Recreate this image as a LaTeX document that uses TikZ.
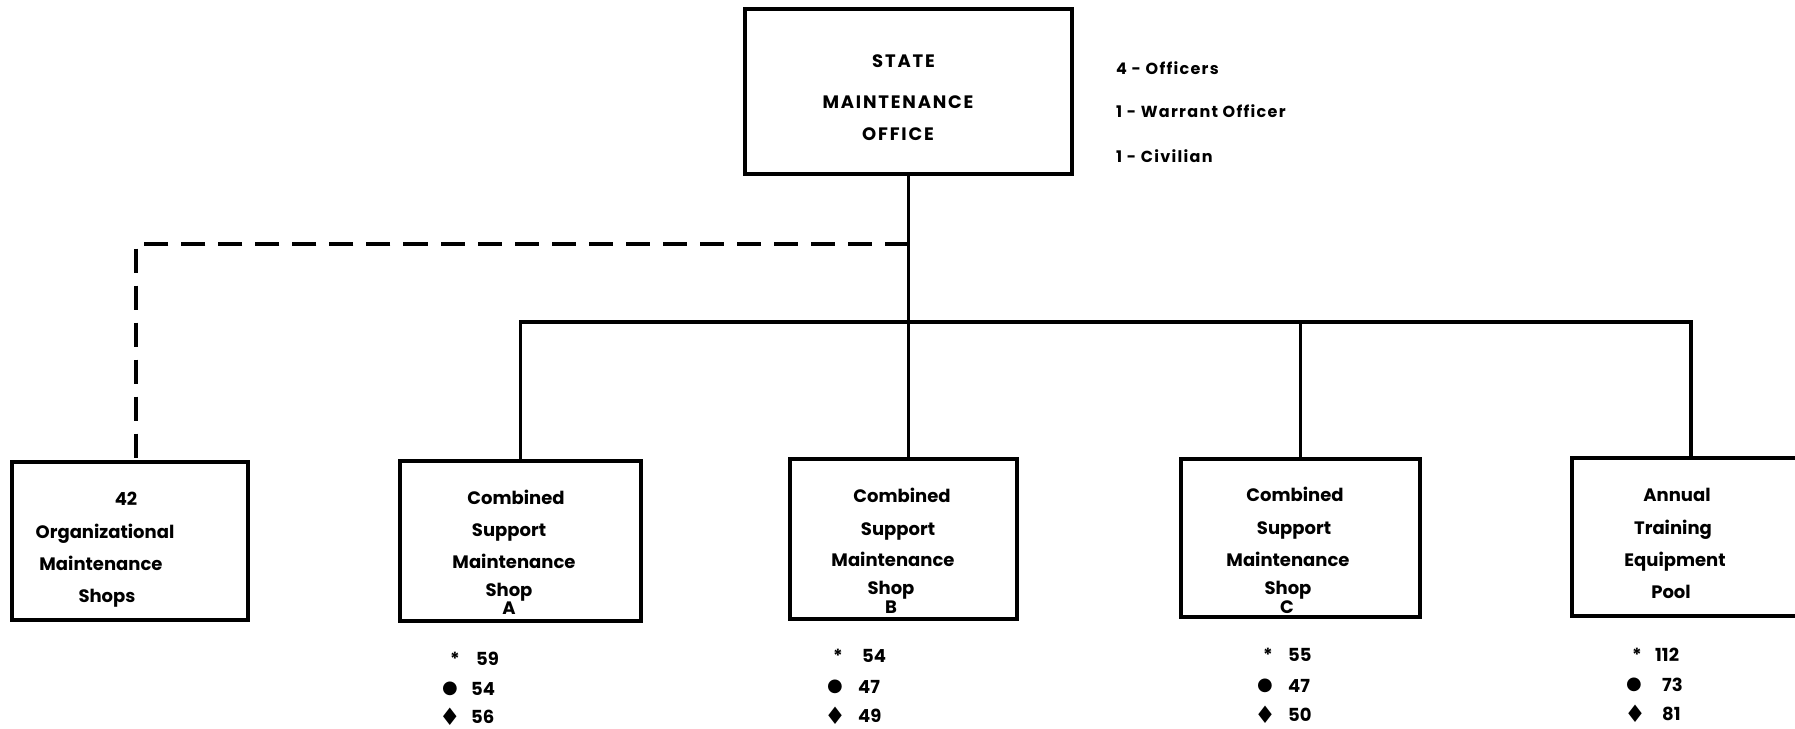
\documentclass[tikz,border=0pt]{standalone}
\usepackage{fontspec}
\setmainfont{Poppins}
\newfontfamily\capsfont{Poppins}[LetterSpace=10]
\newfontfamily\sidefont{Poppins}[LetterSpace=8]
\newfontfamily\symfont{DejaVu Sans}
\begin{document}
\begin{tikzpicture}[x=1bp,y=-1bp,
  box/.style={draw,line width=3.5bp,inner sep=0pt},
  lbl/.style={font=\fontsize{18bp}{18bp}\selectfont\bfseries,text height=13bp,text depth=0pt,inner sep=0pt},
  caps/.style={lbl,font=\capsfont\fontsize{18bp}{18bp}\selectfont\bfseries},
  side/.style={lbl,font=\sidefont\fontsize{16bp}{16bp}\selectfont\bfseries,anchor=west},
  num/.style={lbl,anchor=west},
  dot/.style={font=\symfont\fontsize{18bp}{18bp}\selectfont,inner sep=0pt},
  dia/.style={font=\symfont\fontsize{24bp}{24bp}\selectfont,inner sep=0pt},
  conn/.style={line width=3.5bp},
  dconn/.style={line width=3.5bp,dash pattern=on 24bp off 13bp}]
\useasboundingbox (0,0) rectangle (1795,729);
% boxes
\node[box,minimum width=327bp,minimum height=165bp] (top) at (908.5,91.5) {};
\node[box,minimum width=236bp,minimum height=158bp] (org) at (130,541) {};
\node[box,minimum width=241bp,minimum height=160bp] (A) at (520.5,541) {};
\node[box,minimum width=227bp,minimum height=160bp] (B) at (903.5,539) {};
\node[box,minimum width=239bp,minimum height=158bp] (C) at (1300.5,538) {};
\node[box,minimum width=238bp,minimum height=158bp] (D) at (1691,537) {};
% connectors
\coordinate (bus) at (908,322);
\coordinate (dash) at (908,244);
\coordinate (dcorner) at (136,244);
\draw[conn] (top.south) -- (top.south |- B.north);
\draw[conn] (A.north) -- (A.north |- bus) -- (D.north |- bus) -- (D.north);
\draw[conn] (C.north) -- (C.north |- bus);
\draw[dconn] (top.south |- dash) -- (dcorner) -- (dcorner |- org.north);
% top texts
\node[caps] (t1) at (903.5,61.5) {STATE};
\node[caps] (t2) at (898,102) {MAINTENANCE};
\node[caps] (t3) at (898,134.5) {OFFICE};
\node[side] (s1) at (1116,68) {4 - Officers};
\node[side] (s2) at (1116,111) {1 - Warrant Officer};
\node[side] (s3) at (1116,156) {1 - Civilian};
% org box
\node[lbl] (o1) at (126,499) {42};
\node[lbl] (o2) at (105,532) {Organizational};
\node[lbl] (o3) at (101,564) {Maintenance};
\node[lbl] (o4) at (107,596) {Shops};
% A
\node[lbl] (a1) at (516,498) {Combined};
\node[lbl] (a2) at (509,530) {Support};
\node[lbl] (a3) at (514,562) {Maintenance};
\node[lbl] (a4) at (509,590) {Shop};
\node[lbl] (a5) at (509,608) {A};
% B
\node[lbl] (b1) at (902,496) {Combined};
\node[lbl] (b2) at (898,529) {Support};
\node[lbl] (b3) at (893,560) {Maintenance};
\node[lbl] (b4) at (891,588) {Shop};
\node[lbl] (b5) at (891,607) {B};
% C
\node[lbl] (c1) at (1295,495) {Combined};
\node[lbl] (c2) at (1294,528) {Support};
\node[lbl] (c3) at (1288,560) {Maintenance};
\node[lbl] (c4) at (1288,588) {Shop};
\node[lbl] (c5) at (1287,607) {C};
% D
\node[lbl] (d1) at (1677,495) {Annual};
\node[lbl] (d2) at (1673,528) {Training};
\node[lbl] (d3) at (1675,560) {Equipment};
\node[lbl] (d4) at (1671,592) {Pool};
% counts A
\node[lbl] (ka1) at (455,659) {*};
\node[dot] (ka2) at (450,689) {●};
\node[dia] (ka3) at (450,717) {♦};
\node[num] (na1) at (476,659) {59};
\node[num] (na2) at (471,689) {54};
\node[num] (na3) at (471,717) {56};
% counts B
\node[lbl] (kb1) at (838,656) {*};
\node[dot] (kb2) at (835,687) {●};
\node[dia] (kb3) at (835,716) {♦};
\node[num] (nb1) at (862,656) {54};
\node[num] (nb2) at (858,687) {47};
\node[num] (nb3) at (858,716) {49};
% counts C
\node[lbl] (kc1) at (1268,655) {*};
\node[dot] (kc2) at (1265,686) {●};
\node[dia] (kc3) at (1265,715) {♦};
\node[num] (nc1) at (1288,655) {55};
\node[num] (nc2) at (1288,686) {47};
\node[num] (nc3) at (1288,715) {50};
% counts D
\node[lbl] (kd1) at (1637,655) {*};
\node[dot] (kd2) at (1634,685) {●};
\node[dia] (kd3) at (1635,714) {♦};
\node[num] (nd1) at (1655,655) {112};
\node[num] (nd2) at (1662,685) {73};
\node[num] (nd3) at (1662,714) {81};
\end{tikzpicture}
\end{document}
